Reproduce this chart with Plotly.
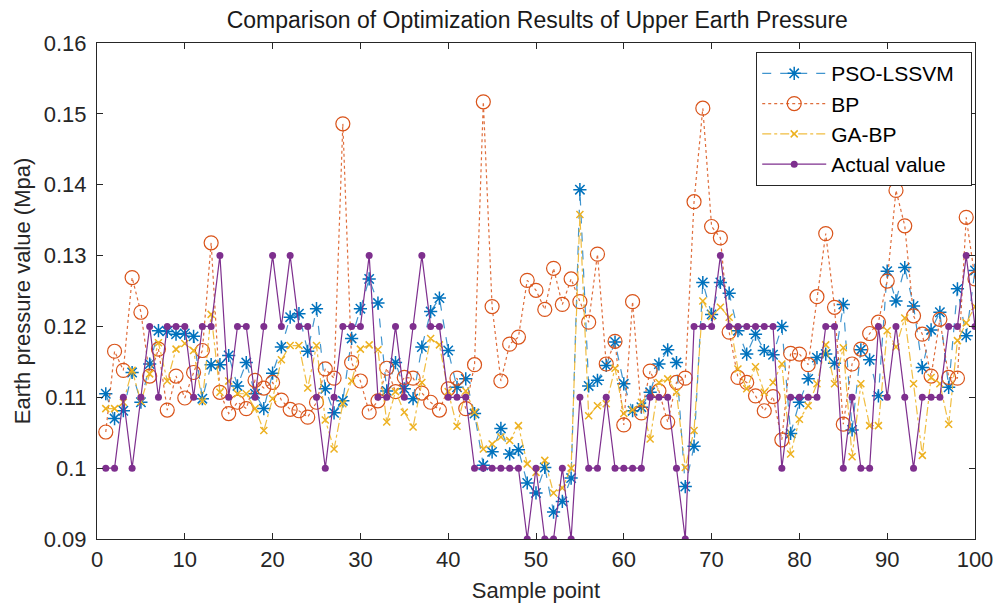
import plotly.graph_objects as go

samples = list(range(1, 101))

pso_lssvm = [
    0.1105, 0.1070, 0.1081, 0.1135, 0.1093, 0.1147, 0.1194, 0.1193, 0.1189, 0.1190,
    0.1186, 0.1098, 0.1146, 0.1146, 0.1159, 0.1116, 0.1149, 0.1105, 0.1084, 0.1134,
    0.1171, 0.1213, 0.1218, 0.1165, 0.1225, 0.1112, 0.1078, 0.1095, 0.1183, 0.1225,
    0.1267, 0.1233, 0.1109, 0.1149, 0.1112, 0.1098, 0.1171, 0.1221, 0.1240, 0.1166,
    0.1114, 0.1126, 0.1077, 0.1004, 0.1023, 0.1056, 0.1020, 0.1026, 0.0979, 0.0965,
    0.1001, 0.0938, 0.0953, 0.0986, 0.1393, 0.1116, 0.1124, 0.1145, 0.1178, 0.1119,
    0.1081, 0.1086, 0.1107, 0.1147, 0.1167, 0.1149, 0.0974, 0.1031, 0.1262, 0.1217,
    0.1262, 0.1247, 0.1194, 0.1161, 0.1189, 0.1166, 0.1160, 0.1200, 0.1049, 0.1093,
    0.1126, 0.1156, 0.1161, 0.1148, 0.1231, 0.1054, 0.1167, 0.1153, 0.1102, 0.1278,
    0.1236, 0.1283, 0.1229, 0.1142, 0.1195, 0.1220, 0.1114, 0.1253, 0.1187, 0.1279,
]

bp = [
    0.1051, 0.1165, 0.1138, 0.1269, 0.1220, 0.1130, 0.1168, 0.1082, 0.1130, 0.1099,
    0.1135, 0.1166, 0.1318, 0.1107, 0.1077, 0.1093, 0.1084, 0.1124, 0.1113, 0.1121,
    0.1096, 0.1083, 0.1081, 0.1072, 0.1093, 0.1140, 0.1127, 0.1486, 0.1149, 0.1123,
    0.1079, 0.1095, 0.1141, 0.1108, 0.1128, 0.1127, 0.1106, 0.1093, 0.1082, 0.1112,
    0.1127, 0.1084, 0.1146, 0.1517, 0.1228, 0.1123, 0.1175, 0.1185, 0.1265, 0.1251,
    0.1224, 0.1282, 0.1231, 0.1267, 0.1235, 0.1206, 0.1302, 0.1147, 0.1179, 0.1061,
    0.1235, 0.1078, 0.1137, 0.1109, 0.1065, 0.1121, 0.1127, 0.1376, 0.1508, 0.1341,
    0.1325, 0.1192, 0.1128, 0.1121, 0.1102, 0.1081, 0.1101, 0.1040, 0.1162, 0.1161,
    0.1146, 0.1242, 0.1331, 0.1227, 0.1062, 0.1147, 0.1168, 0.1190, 0.1206, 0.1264,
    0.1392, 0.1342, 0.1215, 0.1189, 0.1130, 0.1210, 0.1128, 0.1127, 0.1354, 0.1267,
]

ga_bp = [
    0.1084, 0.1084, 0.1093, 0.1138, 0.1094, 0.1133, 0.1177, 0.1123, 0.1168, 0.1176,
    0.1166, 0.1094, 0.1217, 0.1107, 0.1123, 0.1105, 0.1105, 0.1084, 0.1053, 0.1098,
    0.1153, 0.1173, 0.1173, 0.1113, 0.1173, 0.1068, 0.1027, 0.1091, 0.1123, 0.1168,
    0.1174, 0.1167, 0.1065, 0.1108, 0.1079, 0.1058, 0.1121, 0.1183, 0.1174, 0.1108,
    0.1059, 0.1109, 0.1079, 0.1027, 0.1034, 0.1044, 0.1039, 0.1060, 0.1006, 0.0994,
    0.1011, 0.0965, 0.0972, 0.1000, 0.1358, 0.1074, 0.1088, 0.1091, 0.1141, 0.1077,
    0.1082, 0.1093, 0.1041, 0.1121, 0.1126, 0.1107, 0.1001, 0.1053, 0.1236, 0.1214,
    0.1227, 0.1213, 0.1140, 0.1112, 0.1143, 0.1107, 0.1121, 0.1147, 0.1020, 0.1069,
    0.1088, 0.1119, 0.1174, 0.1119, 0.1170, 0.1016, 0.1119, 0.1060, 0.1060, 0.1194,
    0.1171, 0.1212, 0.1119, 0.1018, 0.1128, 0.1119, 0.1062, 0.1180, 0.1205, 0.1228,
]

actual = [
    0.10, 0.10, 0.11, 0.10, 0.11, 0.12, 0.11, 0.12, 0.12, 0.12,
    0.11, 0.12, 0.12, 0.13, 0.11, 0.12, 0.12, 0.11, 0.12, 0.13,
    0.12, 0.13, 0.12, 0.12, 0.11, 0.10, 0.11, 0.12, 0.12, 0.12,
    0.13, 0.11, 0.11, 0.12, 0.11, 0.12, 0.13, 0.12, 0.12, 0.11,
    0.11, 0.11, 0.10, 0.10, 0.10, 0.10, 0.10, 0.10, 0.09, 0.10,
    0.09, 0.09, 0.10, 0.09, 0.11, 0.10, 0.10, 0.11, 0.10, 0.10,
    0.10, 0.10, 0.11, 0.11, 0.11, 0.10, 0.09, 0.12, 0.12, 0.12,
    0.13, 0.12, 0.12, 0.12, 0.12, 0.12, 0.12, 0.10, 0.11, 0.11,
    0.11, 0.11, 0.12, 0.12, 0.10, 0.11, 0.10, 0.10, 0.12, 0.11,
    0.12, 0.11, 0.10, 0.11, 0.11, 0.11, 0.12, 0.12, 0.13, 0.12,
]

x_ticks = [0, 10, 20, 30, 40, 50, 60, 70, 80, 90, 100]
y_ticks = [0.09, 0.10, 0.11, 0.12, 0.13, 0.14, 0.15, 0.16]
y_tick_labels = ["0.09", "0.1", "0.11", "0.12", "0.13", "0.14", "0.15", "0.16"]

FONT = "Liberation Sans, Arial, sans-serif"

fig = go.Figure()
fig.add_trace(go.Scatter(
    x=samples, y=pso_lssvm, name="PSO-LSSVM\u00a0\u00a0", mode="lines+markers",
    line=dict(color="rgba(0,114,189,0.75)", width=1.2, dash="dash"),
    marker=dict(symbol="asterisk-open", size=11, color="#0072BD",
                line=dict(color="#0072BD", width=1.5)),
))
fig.add_trace(go.Scatter(
    x=samples, y=bp, name="BP", mode="lines+markers",
    line=dict(color="rgba(217,83,25,0.85)", width=1.2, dash="dot"),
    marker=dict(symbol="circle-open", size=14, color="#D95319",
                line=dict(color="#D95319", width=1.2)),
))
fig.add_trace(go.Scatter(
    x=samples, y=ga_bp, name="GA-BP", mode="lines+markers",
    line=dict(color="rgba(237,177,32,0.85)", width=1.2, dash="dashdot"),
    marker=dict(symbol="x-thin-open", size=7, color="#EDB120",
                line=dict(color="#EDB120", width=1.5)),
))
fig.add_trace(go.Scatter(
    x=samples, y=actual, name="Actual value", mode="lines+markers",
    line=dict(color="#7E2F8E", width=1.2),
    marker=dict(symbol="circle", size=7, color="#7E2F8E"),
))

axis_common = dict(
    showgrid=False, zeroline=False, showline=True, linecolor="#262626",
    linewidth=1.2, mirror="ticks", ticks="inside", ticklen=6, tickcolor="#262626",
    tickfont=dict(family=FONT, size=22, color="#262626"), automargin=False,
)

fig.update_layout(
    width=995, height=606,
    margin=dict(l=97, r=20, t=43, b=67),
    paper_bgcolor="white", plot_bgcolor="white",
    title=dict(text="Comparison of Optimization Results of Upper Earth Pressure",
               x=0.54, xanchor="center", y=0.967, yanchor="middle",
               font=dict(family=FONT, size=23, color="#1a1a1a")),
    xaxis=dict(range=[0, 100], tickvals=x_ticks,
               title=dict(text="Sample point", font=dict(family=FONT, size=22, color="#262626"), standoff=12),
               **axis_common),
    yaxis=dict(range=[0.09, 0.16], tickvals=y_ticks, ticktext=y_tick_labels,
               ticklabelstandoff=5,
               title=dict(text="Earth pressure value (Mpa)", font=dict(family=FONT, size=22, color="#262626"), standoff=6),
               **axis_common),
    legend=dict(x=0.9966, y=0.982, xanchor="right", yanchor="top",
                bgcolor="white", bordercolor="#262626", borderwidth=1.2,
                font=dict(family=FONT, size=21, color="#000000"),
                tracegroupgap=0, itemwidth=64),
    showlegend=True,
)

fig.write_html("out.html", config={"displayModeBar": False},
               post_script="document.body.style.margin='0';")
